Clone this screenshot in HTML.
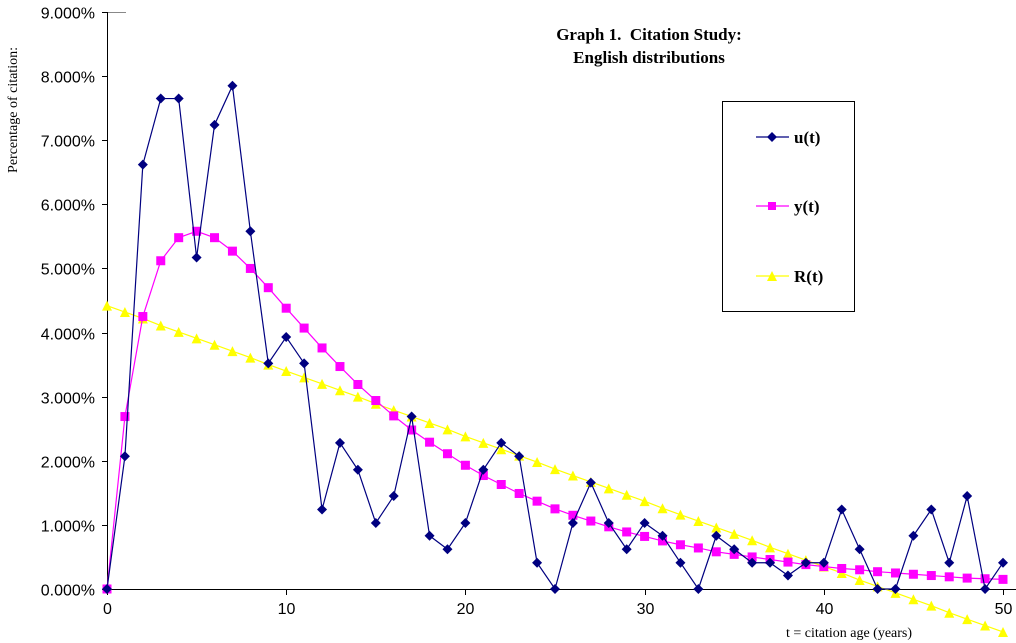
<!DOCTYPE html>
<html><head><meta charset="utf-8"><style>
body{margin:0;background:#fff;}
svg{display:block;}
.tk{font-family:"Liberation Sans",sans-serif;font-size:16px;fill:#000;}
.sf{font-family:"Liberation Serif",serif;fill:#000;white-space:pre;}
</style></head><body>
<svg id="chart" width="1016" height="643" viewBox="0 0 1016 643" xmlns="http://www.w3.org/2000/svg" xml:space="preserve">
<text class="sf" x="649" y="40" text-anchor="middle" font-size="17" font-weight="bold">Graph 1.&#160; Citation Study:</text>
<text class="sf" x="649" y="63" text-anchor="middle" font-size="17" font-weight="bold">English distributions</text>
<text class="sf" transform="translate(17,110) rotate(-90)" text-anchor="middle" font-size="14">Percentage of citation:</text>
<text class="sf" x="849" y="637" text-anchor="middle" font-size="14">t = citation age (years)</text>
<g id="axes"></g>
<g id="series"></g>
<g>
<rect x="722.5" y="101.5" width="132" height="210" fill="#fff" stroke="#000" stroke-width="1"/>
<line x1="756" y1="137" x2="789" y2="137" stroke="#000080" stroke-width="1.2"/>
<path d="M772 132 L777 137 L772 142 L767 137Z" fill="#000080"/>
<text class="sf" x="794" y="143" font-size="17" font-weight="bold">u(t)</text>
<line x1="756" y1="206" x2="789" y2="206" stroke="#ff00ff" stroke-width="1.2"/>
<rect x="768" y="202" width="8" height="8" fill="#ff00ff"/>
<text class="sf" x="794" y="212" font-size="17" font-weight="bold">y(t)</text>
<line x1="756" y1="276" x2="789" y2="276" stroke="#ffff00" stroke-width="1.2"/>
<path d="M772 271 L777 281 L767 281Z" fill="#ffff00"/>
<text class="sf" x="794" y="282" font-size="17" font-weight="bold">R(t)</text>
</g>
</svg>
<script>
const years=[];for(let i=0;i<=50;i++)years.push(i);
const uValues=[0,2.07,6.62,7.65,7.65,5.17,7.24,7.85,5.58,3.52,3.93,3.52,1.24,2.28,1.86,1.03,1.45,2.69,0.83,0.62,1.03,1.86,2.28,2.07,0.41,0,1.03,1.66,1.03,0.62,1.03,0.83,0.41,0,0.83,0.62,0.41,0.41,0.21,0.41,0.41,1.24,0.62,0,0,0.83,1.24,0.41,1.45,0,0.41];
const yValues=[0,2.69,4.25,5.12,5.48,5.58,5.48,5.27,5.0,4.7,4.38,4.07,3.76,3.47,3.19,2.94,2.7,2.48,2.29,2.11,1.93,1.77,1.63,1.49,1.37,1.25,1.15,1.06,0.97,0.89,0.82,0.75,0.69,0.64,0.58,0.54,0.5,0.46,0.42,0.38,0.35,0.32,0.3,0.27,0.25,0.23,0.21,0.19,0.17,0.16,0.15];
const rValues=[4.42,4.32,4.22,4.11,4.01,3.91,3.81,3.71,3.61,3.5,3.4,3.3,3.2,3.1,3.0,2.89,2.79,2.69,2.59,2.49,2.38,2.28,2.18,2.08,1.98,1.87,1.77,1.67,1.57,1.47,1.37,1.26,1.16,1.06,0.96,0.86,0.76,0.65,0.55,0.45,0.35,0.25,0.14,0.04,-0.06,-0.16,-0.26,-0.37,-0.47,-0.57,-0.67];
const yTicks=[0,1,2,3,4,5,6,7,8,9];
const xTicks=[0,10,20,30,40,50];
const NS="http://www.w3.org/2000/svg";
function X(t){return 107+t*17.92;}
function Y(v){return 589-v*64.11;}
function mk(tag,attrs,parent){const e=document.createElementNS(NS,tag);for(const k in attrs)e.setAttribute(k,attrs[k]);parent.appendChild(e);return e;}
const axes=document.getElementById('axes');
let a=mk('line',{x1:107.5,y1:12,x2:107.5,y2:590,stroke:'#000'},axes);


a=mk('line',{x1:107,y1:589.5,x2:1016,y2:589.5,stroke:'#000'},axes);


mk('line',{x1:108,y1:12.5,x2:126,y2:12.5,stroke:'#888'},axes);
yTicks.forEach(v=>{const y=Math.round(Y(v))+0.5;mk('line',{x1:102,y1:y,x2:108,y2:y,stroke:'#000'},axes);
const t=mk('text',{x:95,y:y+6,'text-anchor':'end',class:'tk'},axes);t.textContent=v.toFixed(3)+'%';

});
xTicks.forEach(v=>{const x=Math.round(X(v))+0.5;mk('line',{x1:x,y1:589,x2:x,y2:595,stroke:'#000'},axes);
const t=mk('text',{x:x,y:614,'text-anchor':'middle',class:'tk'},axes);t.textContent=v;

});
const S=document.getElementById('series');
function series(vals,color,name,shape){const g=mk('g',{},S);


mk('polyline',{points:vals.map((v,i)=>X(years[i])+','+Y(v)).join(' '),fill:'none',stroke:color,'stroke-width':1.2},g);
vals.forEach((v,i)=>{const x=X(years[i]),y=Y(v);let m;
if(shape==='d')m=mk('path',{d:`M${x} ${y-5}L${x+5} ${y}L${x} ${y+5}L${x-5} ${y}Z`,fill:color},g);
else if(shape==='s')m=mk('rect',{x:x-4.5,y:y-4.5,width:9,height:9,fill:color},g);
else m=mk('path',{d:`M${x} ${y-5}L${x+5} ${y+5}L${x-5} ${y+5}Z`,fill:color},g);

});}
series(rValues,'#ffff00','series-r','t');
series(yValues,'#ff00ff','series-y','s');
series(uValues,'#000080','series-u','d');
</script>
</body></html>
